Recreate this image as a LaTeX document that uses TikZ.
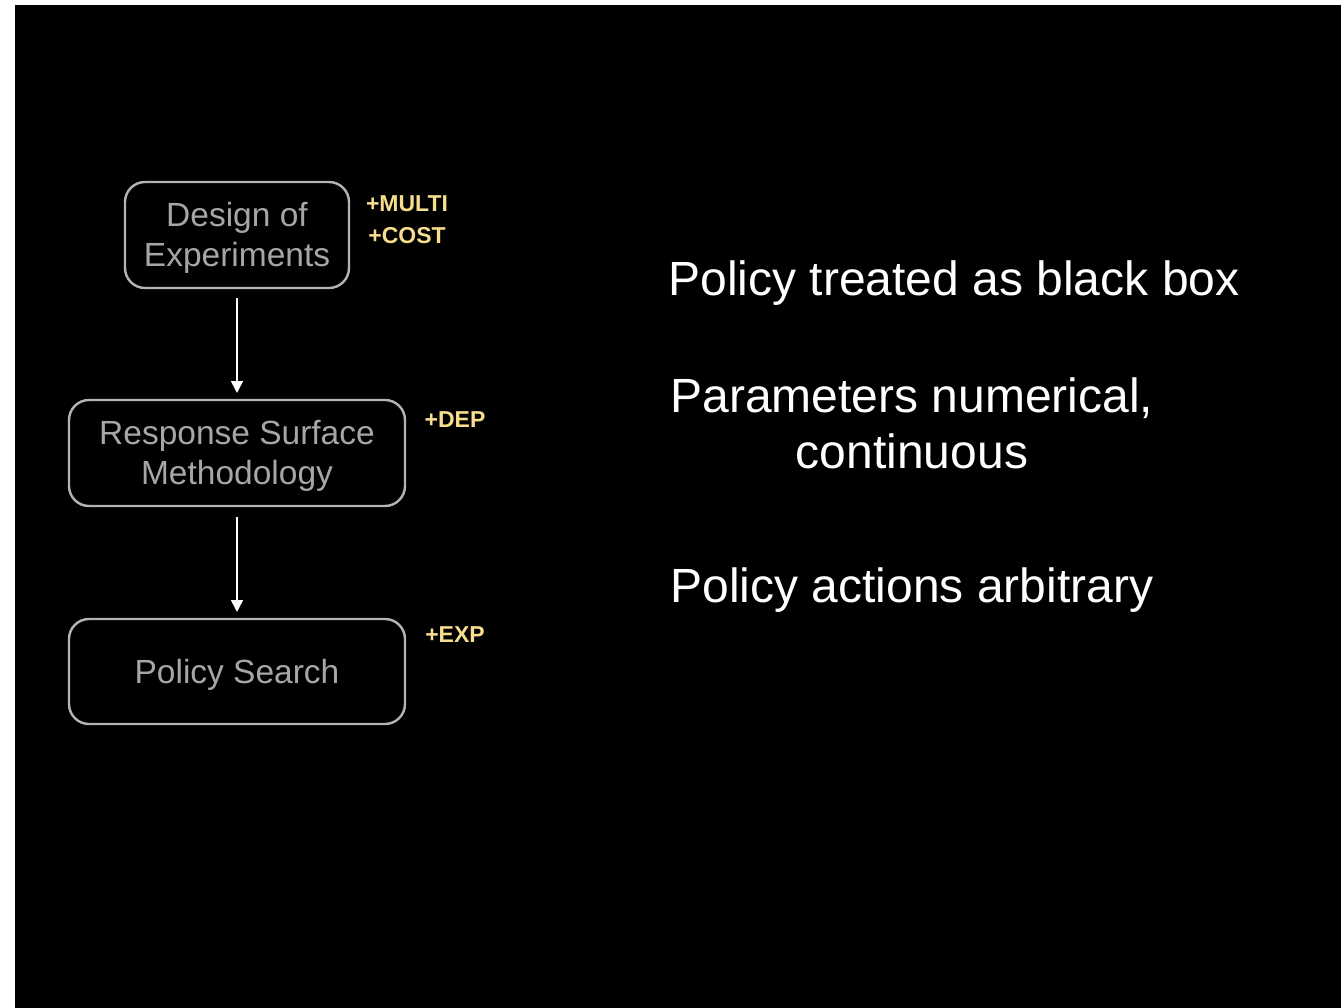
\documentclass[tikz,border=0pt]{standalone}
\usepackage{fontspec}
\setmainfont{Liberation Sans}
\usetikzlibrary{arrows.meta}
\definecolor{boxgray}{HTML}{B4B4B4}
\definecolor{txtgray}{HTML}{A6A6A6}
\definecolor{tagyellow}{HTML}{F7DE8E}
\tikzset{
  stagebox/.style={draw=boxgray, line width=2.4pt, rounded corners=20pt},
  stagetext/.style={text=txtgray, align=center, font=\fontsize{33.5}{40}\selectfont},
  tag/.style={text=tagyellow, font=\fontsize{23}{32}\selectfont\bfseries, align=center},
  bigtext/.style={text=white, align=center, font=\fontsize{48}{56}\selectfont},
  flow/.style={draw=white, line width=1.6pt, -{Triangle[width=12pt,length=12pt]}}
}
\begin{document}
\begin{tikzpicture}[x=1pt,y=-1pt]
\useasboundingbox (0,0) rectangle (1341,1008);
\fill[white] (0,0) rectangle (1341,1008);
\fill[black] (15,5) rectangle (1341,1008);
\draw[stagebox] (125,182) rectangle (349,288);
\draw[stagebox] (69,400) rectangle (405,506);
\draw[stagebox] (69,619) rectangle (405,724);
\node[stagetext] (doe) at (237,238) {Design of\\Experiments};
\node[stagetext] (rsm) at (237,456) {Response Surface\\Methodology};
\node[stagetext] (ps) at (237,675) {Policy Search};
\coordinate (a1s) at (237,298);
\coordinate (a1e) at (237,393);
\coordinate (a2s) at (237,517);
\coordinate (a2e) at (237,612);
\draw[flow] (a1s) -- (a1e);
\draw[flow] (a2s) -- (a2e);
\node[tag] (multi) at (407,220) {+MULTI\\+COST};
\node[tag] (dep) at (455,420) {+DEP};
\node[tag] (exp) at (455,635) {+EXP};
\node[bigtext] (t1) at (954,283) {Policy treated as black box};
\node[bigtext] (t2) at (912,423) {Parameters numerical,\\continuous};
\node[bigtext] (t3) at (912,590) {Policy actions arbitrary};
\end{tikzpicture}
\end{document}
